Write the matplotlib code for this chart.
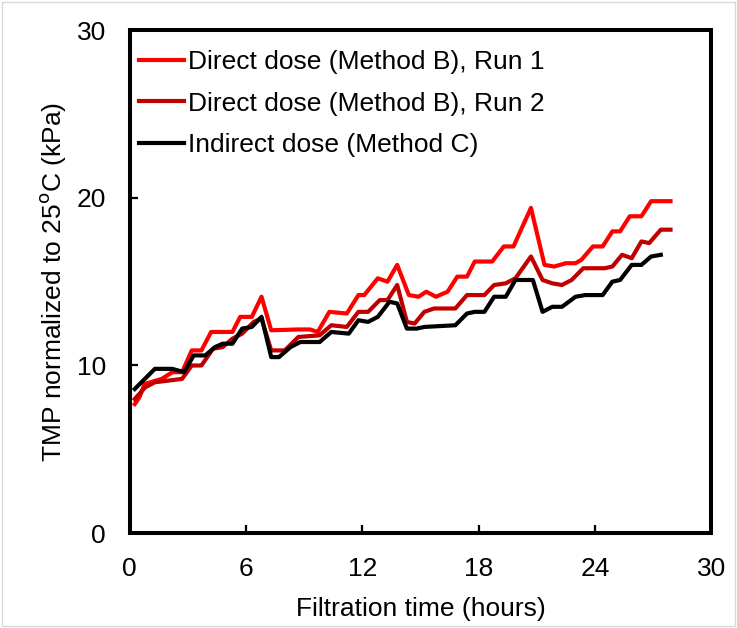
import matplotlib
matplotlib.use("Agg")
import matplotlib.pyplot as plt
from matplotlib.patches import Rectangle

plt.rcParams['font.family'] = ['Liberation Sans', 'DejaVu Sans']

# Run 1 (Direct dose, Method B)
x_run1 = [0.26, 0.5, 0.77, 1.65, 2.2, 2.7, 3.2, 3.7, 4.2, 5.3, 5.7, 6.3, 6.8, 7.3,
          8.7, 9.3, 9.7, 10.3, 11.2, 11.8, 12.1, 12.8, 13.3, 13.8, 14.4, 14.9, 15.3,
          15.8, 16.4, 16.9, 17.4, 17.8, 18.7, 19.3, 19.8, 20.7, 21.4, 21.9, 22.5, 23.0,
          23.3, 23.9, 24.4, 24.9, 25.3, 25.8, 26.4, 26.9, 27.9]
y_run1 = [7.7, 8.1, 8.9, 9.2, 9.6, 9.6, 10.9, 10.9, 12.0, 12.0, 12.9, 12.9, 14.1, 12.1,
          12.15, 12.15, 12.0, 13.2, 13.1, 14.2, 14.2, 15.2, 15.0, 16.0, 14.2, 14.1, 14.4,
          14.1, 14.4, 15.3, 15.3, 16.2, 16.2, 17.1, 17.1, 19.4, 16.0, 15.9, 16.1, 16.1,
          16.3, 17.1, 17.1, 18.0, 18.0, 18.9, 18.9, 19.8, 19.8]

# Run 2 (Direct dose, Method B)
x_run2 = [0.26, 0.8, 1.3, 2.0, 2.7, 3.2, 3.7, 4.3, 4.8, 5.3, 5.8, 6.4, 6.8, 7.3,
          8.0, 8.7, 9.8, 10.4, 11.2, 11.8, 12.3, 12.9, 13.3, 13.8, 14.3, 14.7, 15.2,
          15.7, 16.8, 17.4, 18.3, 18.8, 19.4, 19.9, 20.7, 21.3, 21.8, 22.3, 22.8, 23.4,
          24.5, 24.9, 25.4, 25.9, 26.4, 26.8, 27.4, 27.9]
y_run2 = [8.0, 8.7, 9.0, 9.1, 9.2, 10.0, 10.0, 11.0, 11.1, 11.6, 11.9, 12.6, 12.8, 10.9,
          10.9, 11.7, 11.8, 12.4, 12.3, 13.2, 13.2, 13.9, 13.9, 14.8, 12.6, 12.5, 13.2,
          13.4, 13.4, 14.2, 14.2, 14.8, 14.9, 15.2, 16.5, 15.1, 14.9, 14.8, 15.1, 15.8,
          15.8, 15.9, 16.6, 16.4, 17.4, 17.3, 18.1, 18.1]

# Indirect dose (Method C)
x_ind = [0.26, 1.3, 2.2, 2.8, 3.3, 3.9, 4.4, 4.8, 5.3, 5.8, 6.3, 6.8, 7.3, 7.7,
         8.3, 8.8, 9.8, 10.4, 11.3, 11.8, 12.3, 12.8, 13.4, 13.8, 14.3, 14.8, 15.2,
         16.8, 17.4, 17.8, 18.3, 18.8, 19.4, 19.9, 20.8, 21.3, 21.8, 22.3, 23.0, 23.5,
         24.4, 24.9, 25.3, 25.9, 26.4, 26.9, 27.4]
y_ind = [8.6, 9.8, 9.8, 9.6, 10.6, 10.6, 11.1, 11.3, 11.3, 12.2, 12.3, 12.9, 10.5, 10.5,
         11.1, 11.4, 11.4, 12.0, 11.9, 12.7, 12.6, 12.9, 13.8, 13.7, 12.2, 12.2, 12.3,
         12.4, 13.1, 13.2, 13.2, 14.1, 14.1, 15.1, 15.1, 13.2, 13.5, 13.5, 14.1, 14.2,
         14.2, 15.0, 15.1, 16.0, 16.0, 16.5, 16.6]

labels = ["Direct dose (Method B), Run 1", "Direct dose (Method B), Run 2",
          "Indirect dose (Method C)"]
colors = ["#FF0000", "#C00000", "#000000"]

fig = plt.figure(figsize=(7.37, 6.28), dpi=100)
ax = fig.add_axes([0.176, 0.151, 0.789, 0.801])

for xs, ys, lab, c in zip([x_run1, x_run2, x_ind], [y_run1, y_run2, y_ind], labels, colors):
    ax.plot(xs, ys, color=c, lw=3.0, label=lab, solid_joinstyle='round')

ax.set_xlim(0, 30)
ax.set_ylim(0, 30)
ax.set_xticks([0, 6, 12, 18, 24, 30])
ax.set_yticks([0, 10, 20, 30])
ax.tick_params(direction='in', length=6, width=1.6, labelsize=19)
ax.tick_params(axis='x', pad=17)
ax.tick_params(axis='y', pad=17)
for s in ax.spines.values():
    s.set_linewidth(2.9)

ax.set_xlabel("Filtration time (hours)", fontsize=19, labelpad=12)
ax.set_ylabel("TMP normalized to 25$^{\\mathrm{o}}$C (kPa)", fontsize=19, labelpad=6)

ax.legend(loc='upper left', frameon=False, fontsize=19, handlelength=1.7,
          handletextpad=0.15, labelspacing=0.65, borderaxespad=0.0, borderpad=0.35,
          bbox_to_anchor=(0.0, 0.978))

fig.patches.append(Rectangle((0.003, 0.003), 0.994, 0.994, transform=fig.transFigure,
                             fill=False, edgecolor='#D9D9D9', lw=1))

fig.savefig("out.png", dpi=100)
